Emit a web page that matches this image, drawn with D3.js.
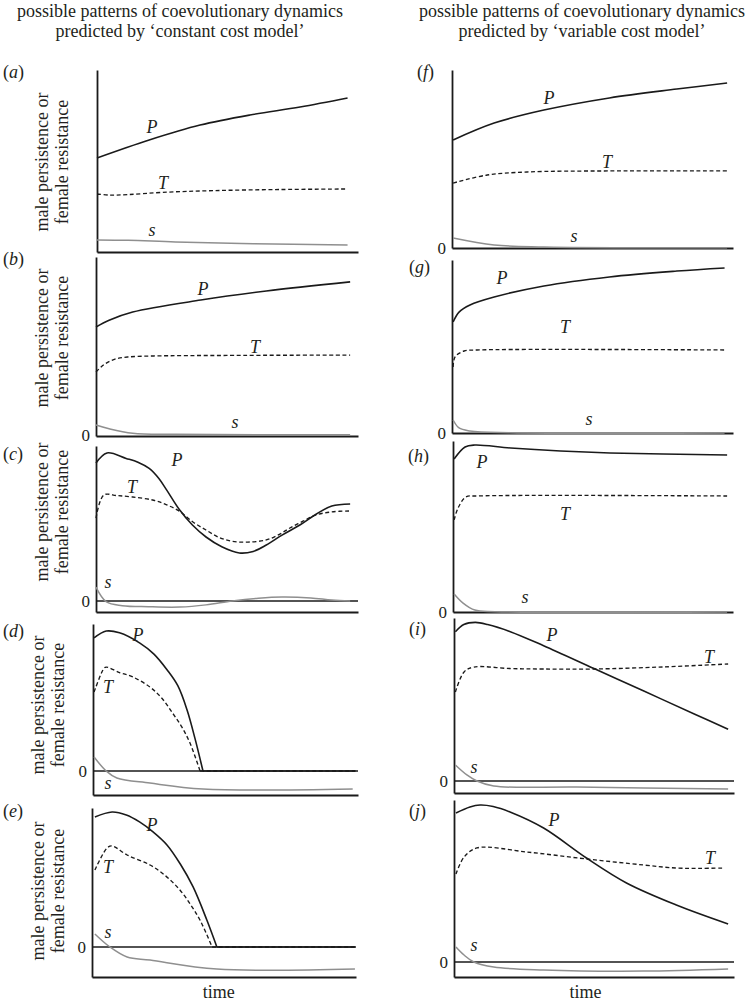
<!DOCTYPE html>
<html><head><meta charset="utf-8">
<script src="https://cdn.jsdelivr.net/npm/d3@7"></script>
<style>
body{margin:0;background:#fff}
svg{display:block}
</style>
</head><body>
<svg id="chart" width="754" height="1003"></svg>
<script>
// ---- data: [time, value] ; value 0 = zero line, 10 = top of panel scale ----
const titlesLeft = ["possible patterns of coevolutionary dynamics", "predicted by \u2018constant cost model\u2019"];
const titlesRight = ["possible patterns of coevolutionary dynamics", "predicted by \u2018variable cost model\u2019"];
const yLabelLines = ["male persistence or", "female resistance"];
const xLabel = "time";
const seriesNames = ["P", "T", "s"];
const panelIds = ["a","b","c","d","e","f","g","h","i","j"];

const aP = [[0,5.11],[20,6.11],[39.5,6.94],[58.6,7.5],[77.8,7.94],[96,8.44]];
const aT = [[0,3.11],[5,3.05],[12,3.08],[25,3.2],[45,3.3],[70,3.36],[96,3.39]];
const aS = [[0,0.56],[12,0.54],[30,0.45],[60,0.35],[96,0.28]];

const bP = [[0,6.07],[5,6.45],[14,6.91],[40,7.58],[65,8.09],[97,8.6]];
const bT = [[0,3.54],[3,3.95],[7,4.25],[12,4.38],[22,4.44],[50,4.47],[97,4.49]];
const bS = [[0,0.56],[5,0.35],[14,0.1],[30,0.04],[97,0.02]];

const cP = [[0,8.9],[4.2,9.55],[11.5,9.2],[16,8.95],[20.3,8.55],[24,7.9],[27,7.15],[31.8,5.9],[36.8,4.9],[42,4.13],[48,3.5],[54.7,3.1],[60,3.2],[65,3.61],[71,4.25],[77.8,4.9],[84,5.6],[90,6.13],[97,6.26]];
const cT = [[0,5.35],[3,6.84],[8,6.8],[14,6.71],[22,6.5],[27,6.2],[31.8,5.8],[37,5.1],[42,4.58],[47,4.1],[52,3.85],[58,3.8],[65,3.94],[70,4.3],[74,4.71],[79,5.15],[84,5.55],[90,5.75],[97,5.81]];
const cS = [[0,0.9],[4,-0.06],[10,-0.3],[20,-0.37],[32,-0.39],[42,-0.25],[52,0],[62,0.18],[71,0.26],[82,0.2],[90,0.06],[97,0]];

const dP = [[0.4,9.05],[5,9.52],[10,9.4],[17.7,8.7],[23,7.95],[28,6.87],[32,5.8],[35.5,4.15],[38.5,2.2],[41.5,0],[99,0]];
const dT = [[0.4,5.37],[4.2,7.0],[5,7.07],[10,6.7],[15,6.4],[21.5,5.71],[26,4.95],[30,3.95],[33.5,3.0],[36.6,1.9],[40.4,0],[99,0]];
const dS = [[0.4,0.95],[5,0],[9,-0.48],[21.5,-0.82],[41.5,-1.22],[98,-1.22]];

const eP = [[1.1,9.35],[7.6,9.71],[13,9.5],[18,9.0],[23,8.3],[28.4,7.34],[33.5,5.95],[38.3,4.32],[43.5,1.94],[47.3,0],[99.6,0]];
const eT = [[1.1,5.54],[5.7,7.12],[7.6,7.27],[13.3,6.62],[22,5.9],[28,5.1],[33.3,4.1],[37.5,3.0],[40.9,1.94],[45.5,0],[99.6,0]];
const eS = [[1.1,0.94],[6.8,0],[13.3,-0.72],[22,-0.94],[47.3,-1.58],[99.6,-1.58]];

const fP = [[0.4,6.07],[15,7.02],[32.7,7.75],[56,8.43],[80,8.93],[97.9,9.27]];
const fT = [[0.4,3.65],[12.5,4.1],[26.7,4.27],[56,4.33],[97.9,4.33]];
const fS = [[0.4,0.56],[15,0.17],[32.7,0.06],[97.9,0.02]];

const gP = [[0.4,6.42],[2.5,6.99],[6.4,7.4],[15,7.86],[32.7,8.5],[56,9.02],[80,9.36],[97,9.54]];
const gT = [[0.4,3.82],[1.1,4.4],[4.3,4.74],[8.9,4.8],[97,4.8]];
const gS = [[0.4,0.75],[2.5,0.29],[6.4,0.12],[20.6,0.02],[97,0]];

const hP = [[0.4,8.74],[4.3,9.43],[7.8,9.54],[20.6,9.37],[38.4,9.2],[56,9.09],[97.9,8.97]];
const hT = [[0.4,5.26],[1.8,5.94],[4.6,6.57],[8.9,6.63],[97.9,6.63]];
const hS = [[0.4,1.03],[3.6,0.51],[7.8,0.11],[15,0.02],[97.9,0]];

const iP = [[0.5,9.16],[3.5,9.6],[7.6,9.73],[12,9.6],[20.1,9.16],[32,8.3],[50,6.9],[68,5.5],[86,4.1],[97.9,3.17]];
const iT = [[0.5,5.46],[3.6,6.69],[7.1,6.99],[20,6.9],[32,6.87],[50,6.87],[75,7.0],[97.9,7.18]];
const iS = [[0.5,0.98],[4.6,0.37],[8.2,0],[14.2,-0.31],[43.8,-0.37],[97.9,-0.49]];

const jP = [[0.7,9.2],[5.7,9.57],[9.3,9.69],[14,9.6],[20,9.26],[32,8.27],[47.3,6.42],[61.6,4.88],[79.4,3.52],[97.9,2.35]];
const jT = [[0.7,5.43],[3.6,6.48],[8.2,7.04],[26,6.79],[47.3,6.36],[67.6,5.99],[79.4,5.8],[88,5.78],[96.4,5.8]];
const jS = [[0.7,0.93],[3.6,0.43],[7.1,0],[14.2,-0.31],[32,-0.49],[67.6,-0.56],[97.9,-0.43]];

const panelData = {a:[aP,aT,aS], b:[bP,bT,bS], c:[cP,cT,cS], d:[dP,dT,dS], e:[eP,eT,eS],
                   f:[fP,fT,fS], g:[gP,gT,gS], h:[hP,hT,hS], i:[iP,iT,iS], j:[jP,jT,jS]};

// ---- layout (pixels) ----
const layout = {
  a:{x0:97,x1:358,top:70,axisTop:70,zero:250,bottom:252,zeroLabel:false,zeroLine:false,letter:[3,78],ylab:[48,68,162],
     labs:[[152,127],[163,183],[152,232]]},
  b:{x0:96,x1:358,top:257,axisTop:257,zero:435,bottom:436,zeroLabel:true,zeroLine:false,letter:[3,265],ylab:[48,68,338],
     labs:[[203,289],[255,347],[235,424]]},
  c:{x0:96,x1:358,top:446,axisTop:446,zero:601,bottom:612,zeroLabel:true,zeroLine:true,letter:[3,460],ylab:[48,68,512],
     labs:[[177,460],[132,487],[108,584]]},
  d:{x0:93,x1:358,top:624,axisTop:624,zero:771,bottom:795,zeroLabel:true,zeroLine:true,letter:[3,637],ylab:[44,64,705],
     labs:[[138,635],[108,687],[108,785]]},
  e:{x0:92,x1:356,top:808,axisTop:808,zero:947,bottom:977,zeroLabel:true,zeroLine:true,letter:[3,817],ylab:[44,64,891],
     labs:[[152,825],[108,867],[108,934]]},
  f:{x0:452,x1:733,top:70,axisTop:70,zero:248,bottom:248,zeroLabel:true,zeroLine:false,letter:[417,78],
     labs:[[549,98],[607,162],[574,238]]},
  g:{x0:452,x1:733,top:260,axisTop:260,zero:433,bottom:433,zeroLabel:true,zeroLine:false,letter:[409,273],
     labs:[[502,278],[565,327],[589,421]]},
  h:{x0:453,x1:733,top:437,axisTop:441,zero:612,bottom:612,zeroLabel:true,zeroLine:false,letter:[408,462],
     labs:[[482,462],[565,514],[525,599]]},
  i:{x0:454,x1:734,top:618,axisTop:618,zero:781,bottom:793,zeroLabel:true,zeroLine:true,letter:[409,635],
     labs:[[552,635],[709,657],[474,769]]},
  j:{x0:454,x1:734,top:800,axisTop:800,zero:962,bottom:977,zeroLabel:true,zeroLine:true,letter:[409,817],
     labs:[[554,820],[710,858],[474,947]]}
};

const FONT = '"Liberation Serif", "Times New Roman", Times, serif';
const INK = "#231f20";
const styles = [
  {stroke:"#1a1a1a", width:1.6, dash:null},
  {stroke:"#1a1a1a", width:1.35, dash:"4,2.6"},
  {stroke:"#8f8f8f", width:1.5, dash:null}
];

const svg = d3.select("#chart");
function txt(sel, size) {
  return sel.append("text").style("font-family", FONT).style("font-size", size + "px").style("fill", INK);
}

// titles
[[titlesLeft,180],[titlesRight,582]].forEach(([lines,cx]) => {
  lines.forEach((t,k) => txt(svg,18).attr("x",cx).attr("y",17+k*19.5)
    .attr("text-anchor","middle").text(t));
});

panelIds.forEach(id => {
  const L = layout[id], data = panelData[id];
  const ppu = (L.zero - L.top) / 10;
  const lo = -(L.bottom - L.zero) / ppu;
  const hi = (L.zero - L.axisTop) / ppu;
  const x = d3.scaleLinear().domain([0,100]).range([L.x0, L.x1]);
  const y = d3.scaleLinear().domain([lo, hi]).range([L.bottom, L.axisTop]);
  const g = svg.append("g");

  // axes
  const ya = d3.axisLeft(y).tickValues(L.zeroLabel ? [0] : []).tickSize(0).tickSizeOuter(0).tickPadding(6);
  const yg = g.append("g").attr("transform",`translate(${L.x0},0)`).call(ya);
  const xa = d3.axisBottom(x).tickValues([]).tickSizeOuter(0);
  const xg = g.append("g").attr("transform",`translate(0,${L.bottom})`).call(xa);
  [yg,xg].forEach(s => s.select(".domain").attr("stroke","#1a1a1a").attr("stroke-width",1.8));
  yg.selectAll(".tick text").style("font-family",FONT).style("font-size","17px").style("fill",INK).attr("dy","0.34em");

  if (L.zeroLine) {
    g.append("path").attr("d", d3.line()([[x(0), y(0)], [x(100), y(0)]]))
      .attr("stroke","#1a1a1a").attr("stroke-width",1.6).attr("fill","none");
  }

  const smooth = d3.line().x(d => x(d[0])).y(d => y(d[1])).curve(d3.curveCatmullRom.alpha(0.5));
  const straight = d3.line().x(d => x(d[0])).y(d => y(d[1]));
  // draw s first, then T, then P
  [2,1,0].forEach(k => {
    const st = styles[k];
    const pts = data[k];
    // split off a trailing flat run at zero (collapse)
    let cut = pts.length - 1;
    while (cut > 0 && pts[cut][1] === 0 && pts[cut-1][1] === 0) cut--;
    const parts = [[pts.slice(0, cut + 1), smooth]];
    if (cut < pts.length - 1) parts.push([pts.slice(cut), straight]);
    parts.forEach(([p, gen]) => {
      g.append("path").datum(p).attr("d", gen)
        .attr("fill","none").attr("stroke",st.stroke).attr("stroke-width",st.width)
        .attr("stroke-dasharray", st.dash).attr("stroke-linejoin","round");
    });
  });

  // curve labels
  seriesNames.forEach((nm,k) => {
    const [cx,cy] = L.labs[k];
    txt(g,18).attr("x",cx).attr("y", cy + (nm === "s" ? 4 : 6))
      .attr("text-anchor","middle").style("font-style","italic").text(nm);
  });

  // panel letter
  const lt = txt(g,18).attr("x",L.letter[0]).attr("y",L.letter[1]);
  lt.append("tspan").text("(");
  lt.append("tspan").style("font-style","italic").text(id);
  lt.append("tspan").text(")");

  // y label (left column)
  if (L.ylab) {
    yLabelLines.forEach((t,k) => {
      txt(g,18).attr("transform",`translate(${L.ylab[k]},${L.ylab[2]}) rotate(-90)`)
        .attr("text-anchor","middle").text(t);
    });
  }
});

// time labels
[["e",48],["j",47]].forEach(([id,t]) => {
  const L = layout[id];
  const x = d3.scaleLinear().domain([0,100]).range([L.x0, L.x1]);
  txt(svg,18).attr("x", x(t)).attr("y", 998).attr("text-anchor","middle").text(xLabel);
});
</script>
</body></html>
